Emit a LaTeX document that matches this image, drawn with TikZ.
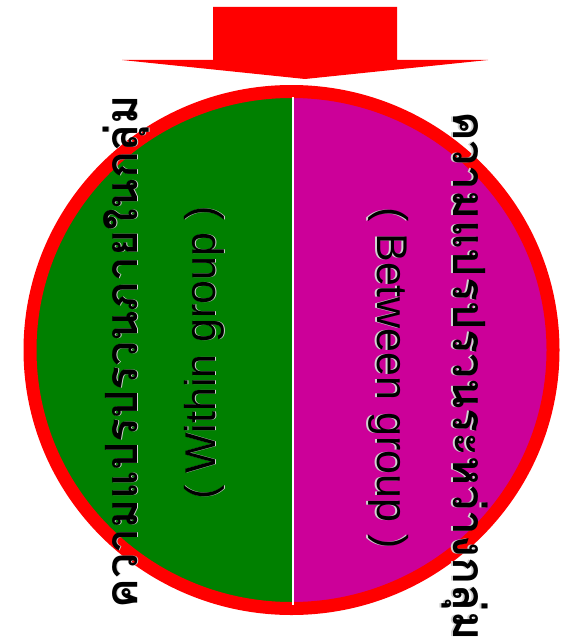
\documentclass[tikz,border=0pt]{standalone}
\usepackage{fontspec}
\setmainfont{Liberation Sans}
\newfontfamily\thaifont[Script=Thai]{Loma}
\definecolor{withingreen}{HTML}{008000}
\definecolor{betweenmag}{HTML}{CC0099}
\definecolor{ringred}{HTML}{FF0000}
\newcommand\softshadow[1]{\leavevmode\rlap{\raisebox{-1.8pt}{\color{black!18}#1}}#1}
\tikzset{
  thailabel/.style={font=\thaifont\bfseries\fontsize{44.5}{48}\selectfont, text=black,
                    inner sep=0pt, anchor=base},
  englabel/.style={font=\fontsize{43}{46}\selectfont, text=black,
                   inner sep=0pt, anchor=base},
  ring/.style={draw=ringred, line width=13pt},
  divider/.style={draw=white, line width=2.5pt}}
\begin{document}
\begin{tikzpicture}[x=1pt,y=-1pt]
  \useasboundingbox (0,0) rectangle (563,642);
  % big arrow on top
  \fill[ringred] (213,7) -- (397,7) -- (397,60) -- (488,60) -- (305,79)
        -- (122,60) -- (213,60) -- cycle;
  % the disc, split in two
  \coordinate (disc) at (291.5,350);
  \begin{scope}
    \clip (disc) ellipse [x radius=262, y radius=259];
    \fill[withingreen] (0,0) rectangle (293,642);
    \fill[betweenmag] (293,0) rectangle (563,642);
  \end{scope}
  \draw[ring] (disc) ellipse [x radius=261.5, y radius=258.5];
  \coordinate (divtop) at (293,97);
  \coordinate (divbot) at (293,605);
  \draw[divider] (divtop) -- (divbot);
  % labels
  \node[thailabel, rotate=90] (withinth) at (137,352) {\softshadow{ความแปรปรวนภายในกลุ่ม}};
  \node[englabel, rotate=90] (withinen) at (215,353) {\softshadow{( Within group )}};
  \node[thailabel, rotate=-90] (betweenth) at (453,376) {\softshadow{ความแปรปรวนระหว่างกลุ่ม}};
  \node[englabel, rotate=-90] (betweenen) at (377,378) {\softshadow{( Between group )}};
\end{tikzpicture}
\end{document}
